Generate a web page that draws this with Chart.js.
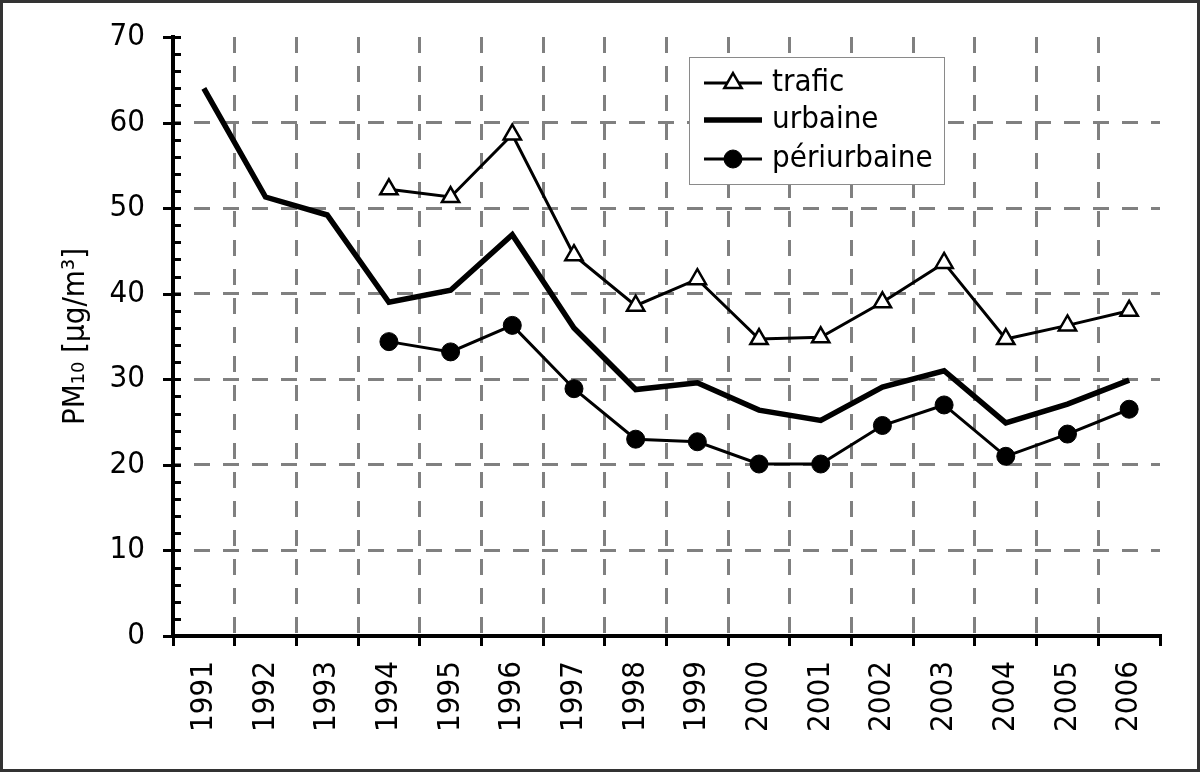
<!DOCTYPE html>
<html>
<head>
<meta charset="utf-8">
<script src="https://cdn.jsdelivr.net/npm/chart.js@4"></script>
<style>
html,body{margin:0;padding:0;background:#fff;}
canvas{display:block;}
</style>
</head>
<body>
<canvas id="c" width="1200" height="772"></canvas>
<script>
const years = ['1991','1992','1993','1994','1995','1996','1997','1998','1999','2000','2001','2002','2003','2004','2005','2006'];
const trafic = [null,null,null,52.2,51.3,58.6,44.5,38.6,41.7,34.7,34.9,39.0,43.6,34.7,36.3,38.0];
const urbaine = [64.0,51.3,49.2,39.0,40.4,46.9,36.0,28.8,29.6,26.4,25.2,29.1,31.0,24.9,27.1,29.9];
const periurbaine = [null,null,null,34.4,33.2,36.3,28.9,23.0,22.7,20.1,20.1,24.6,27.0,21.0,23.6,26.5];
const seriesNames = ['trafic','urbaine','périurbaine'];
const yTitle = 'PM₁₀ [µg/m³]';

const FONT = '"DejaVu Sans Condensed", "DejaVu Sans", sans-serif';
const FS = 31;

const bgPlugin = {
  id: 'bg',
  beforeDraw(chart) {
    const ctx = chart.ctx;
    ctx.save();
    ctx.fillStyle = '#fff';
    ctx.fillRect(0, 0, chart.width, chart.height);
    ctx.restore();
  },
  afterDraw(chart) {
    const ctx = chart.ctx;
    const ys = chart.scales.y;
    const left = chart.chartArea.left;
    ctx.save();
    ctx.setLineDash([]);
    // y axis tick marks (major crossing, minor inside)
    ctx.strokeStyle = '#000';
    ctx.lineWidth = 3;
    for (let v = 0; v <= 70; v += 2) {
      const y = Math.round(ys.getPixelForValue(v)) + 0.5;
      ctx.beginPath();
      ctx.moveTo(v % 10 === 0 ? left - 10 : left, y);
      ctx.lineTo(left + 8, y);
      ctx.stroke();
    }
    // legend box
    const bx = 689, by = 57, bw = 255, bh = 127;
    ctx.fillStyle = '#fff';
    ctx.fillRect(bx, by, bw, bh);
    ctx.strokeStyle = '#8a8a8a';
    ctx.lineWidth = 1;
    ctx.strokeRect(bx + 0.5, by + 0.5, bw, bh);
    const rows = [83, 120, 159];
    chart.data.datasets.forEach((ds, i) => {
      const y = rows[i];
      ctx.strokeStyle = '#000';
      ctx.lineWidth = ds.borderWidth;
      ctx.beginPath();
      ctx.moveTo(704, y);
      ctx.lineTo(762, y);
      ctx.stroke();
      if (ds.pointRadius > 0) {
        ctx.fillStyle = ds.pointBackgroundColor;
        ctx.strokeStyle = ds.pointBorderColor;
        ctx.lineWidth = ds.pointBorderWidth;
        ctx.beginPath();
        if (ds.pointStyle === 'triangle') {
          const r = ds.pointRadius;
          const s = r * Math.sqrt(3) / 2;
          ctx.moveTo(733, y - r);
          ctx.lineTo(733 + s, y + r / 2);
          ctx.lineTo(733 - s, y + r / 2);
          ctx.closePath();
        } else {
          ctx.arc(733, y, ds.pointRadius, 0, Math.PI * 2);
        }
        ctx.fill();
        ctx.stroke();
      }
      ctx.fillStyle = '#000';
      ctx.font = FS + 'px ' + FONT;
      ctx.textBaseline = 'middle';
      ctx.textAlign = 'left';
      ctx.fillText(ds.label, 772, y);
    });
    // outer frame
    ctx.strokeStyle = '#333';
    ctx.lineWidth = 3;
    ctx.strokeRect(1.5, 1.5, chart.width - 3, chart.height - 3);
    ctx.restore();
  }
};

new Chart(document.getElementById('c'), {
  type: 'line',
  data: {
    labels: years,
    datasets: [
      {
        label: seriesNames[0], data: trafic,
        borderColor: '#000', borderWidth: 3, tension: 0,
        pointStyle: 'triangle', pointRadius: 10, pointHoverRadius: 10,
        pointBackgroundColor: '#fff', pointBorderColor: '#000', pointBorderWidth: 2.5,
        spanGaps: false
      },
      {
        label: seriesNames[1], data: urbaine,
        borderColor: '#000', borderWidth: 5.5, tension: 0,
        pointRadius: 0, pointHoverRadius: 0
      },
      {
        label: seriesNames[2], data: periurbaine,
        borderColor: '#000', borderWidth: 3, tension: 0,
        pointStyle: 'circle', pointRadius: 9, pointHoverRadius: 9,
        pointBackgroundColor: '#000', pointBorderColor: '#000', pointBorderWidth: 1
      }
    ]
  },
  options: {
    responsive: false,
    animation: false,
    devicePixelRatio: 1,
    layout: { padding: { left: 0, top: 37, right: 40, bottom: 0 } },
    plugins: {
      legend: { display: false },
      tooltip: { enabled: false }
    },
    scales: {
      x: {
        type: 'category',
        offset: true,
        afterFit(s) { s.height = 136; },
        border: { display: true, color: '#000', width: 4, dash: [16, 13], dashOffset: 0 },
        grid: {
          offset: true,
          drawOnChartArea: true,
          drawTicks: true,
          tickLength: 10,
          tickWidth: 3,
          tickColor: '#000',
          tickBorderDash: [],
          lineWidth: 3,
          color: (ctx) => (ctx.index === undefined || ctx.index === 0 || ctx.type !== 'tick') ? 'rgba(0,0,0,0)' : '#808080'
        },
        ticks: {
          autoSkip: false,
          minRotation: 90,
          maxRotation: 90,
          padding: 15,
          color: '#000',
          font: { family: FONT, size: FS }
        }
      },
      y: {
        min: 0,
        max: 70,
        afterFit(s) { s.width = 173; },
        afterBuildTicks(s) {
          s.ticks = [];
          for (let v = 0; v <= 70; v += 2) s.ticks.push({ value: v });
        },
        border: { display: true, color: '#000', width: 4, dash: [16, 13], dashOffset: 10 },
        grid: {
          drawTicks: true,
          tickLength: 28,
          tickColor: 'rgba(0,0,0,0)',
          lineWidth: 3,
          color: (ctx) => {
            const v = ctx.tick ? ctx.tick.value : 0;
            return (v % 10 === 0 && v !== 0 && v !== 70) ? '#808080' : 'rgba(0,0,0,0)';
          }
        },
        ticks: {
          autoSkip: false,
          padding: 0,
          color: '#000',
          font: { family: FONT, size: FS },
          callback: (v) => (v % 10 === 0 ? String(v) : '')
        },
        title: {
          display: true,
          text: yTitle,
          color: '#000',
          font: { family: FONT, size: FS },
          padding: { top: 57, bottom: 0 }
        }
      }
    }
  },
  plugins: [bgPlugin]
});
</script>
</body>
</html>
